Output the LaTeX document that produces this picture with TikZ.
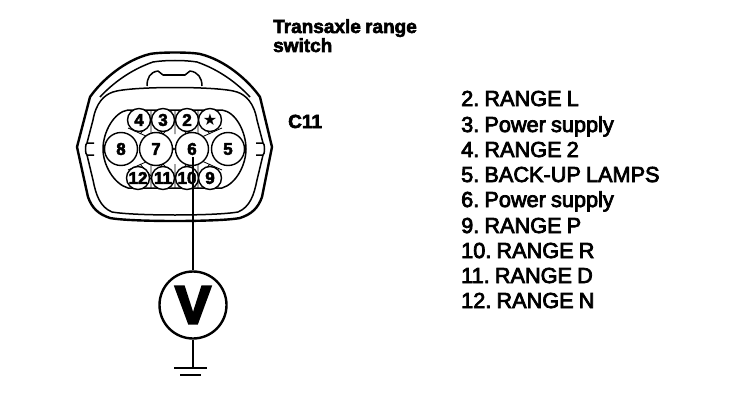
\documentclass[tikz,border=0pt]{standalone}
\usepackage{fontspec}
\setmainfont{Liberation Sans}
\frenchspacing
\newfontfamily\listfont[FakeBold=3.5,WordSpace=0.85]{Liberation Sans}
\newfontfamily\headfont[FakeBold=3,WordSpace=0.8]{Liberation Sans Bold}
\newfontfamily\meterfont[FakeBold=5]{Liberation Sans Bold}
\newfontfamily\symfont{DejaVu Sans}
\tikzset{
  pinbig/.style={circle,draw=black,line width=1.4pt,fill=white,minimum size=33pt,inner sep=0pt,font=\fontsize{17}{17}\selectfont\headfont},
  pinsmall/.style={circle,draw=black,line width=1.4pt,fill=white,minimum size=23pt,inner sep=0pt,font=\fontsize{17}{17}\selectfont\headfont},
  listitem/.style={anchor=base west,inner sep=0pt,font=\fontsize{21.7}{21}\selectfont\listfont,text=black},
  title/.style={anchor=base west,inner sep=0pt,font=\fontsize{19}{19}\selectfont\headfont},
  wire/.style={line width=2.2pt,black},
  shell/.style={line width=1.5pt,black,line join=round},
  thin lattice/.style={line width=.8pt,black}
}
\begin{document}
\begin{tikzpicture}[x=1pt,y=-1pt]
\useasboundingbox (0,0) rectangle (736,404);
\fill[white] (0,0) rectangle (736,404);
% housing outer
\draw[shell,line width=2.4pt] (150,54) .. controls (160,52) and (190,52) .. (200,54)
  .. controls (225,60) and (248,80) .. (260,97) -- (272,147) -- (262,197)
  .. controls (258,208) and (252,214) .. (240,218) .. controls (220,222) and (130,222) .. (110,218)
  .. controls (98,214) and (92,208) .. (88,197) -- (77,147) -- (90,97)
  .. controls (102,80) and (125,60) .. (150,54) -- cycle;
% inner rim, upper
\draw[shell] (100,97) .. controls (112,84) and (130,70) .. (153,62) .. controls (165,60) and (185,60) .. (197,62)
  .. controls (220,70) and (238,84) .. (250,97);
% housing inner
\draw[shell] (87,143) -- (93,120) .. controls (96,103) and (104,95) .. (113,92)
  .. controls (130,86) and (220,86) .. (237,92)
  .. controls (246,95) and (254,103) .. (257,120) -- (263,143);
\draw[shell] (87,155) -- (93,180) .. controls (96,195) and (100,207) .. (112,212)
  .. controls (135,216) and (215,216) .. (238,212)
  .. controls (250,207) and (254,195) .. (257,180) -- (263,155);
% tab
\draw[shell] (147,86) .. controls (147,78) and (150,72) .. (158,71) -- (163,75) -- (185,75) -- (190,71)
  .. controls (198,72) and (202,78) .. (202,86);
% side notches
\draw[shell] (87,143) .. controls (85,143) and (85,155) .. (87,155) -- (94,155) (87,143) -- (94,143);
\draw[shell] (263,143) .. controls (265,143) and (265,155) .. (263,155) -- (256,155) (263,143) -- (256,143);
% inner oval
\draw[shell] (128,110) -- (222,110) .. controls (236,112) and (246,132) .. (246,149)
  .. controls (246,165) and (236,184) .. (222,188) -- (128,188)
  .. controls (114,184) and (103,165) .. (103,149) .. controls (103,132) and (114,112) .. (128,110) -- cycle;
% lattice
\begin{scope}
\clip (128,110) -- (222,110) .. controls (236,112) and (246,132) .. (246,149)
  .. controls (246,165) and (236,184) .. (222,188) -- (128,188)
  .. controls (114,184) and (103,165) .. (103,149) .. controls (103,132) and (114,112) .. (128,110) -- cycle;
\draw[thin lattice]
 (151,108)--(151,134) (175,108)--(175,134) (198,108)--(198,134)
 (151,164)--(151,190) (175,164)--(175,190) (198,164)--(198,190)
 (128,128)--(222,170) (222,128)--(128,170)
 (140,108)--(163,134) (163,108)--(140,134) (163,108)--(187,134) (187,108)--(163,134) (187,108)--(210,134) (210,108)--(187,134)
 (140,190)--(163,164) (163,190)--(140,164) (163,190)--(187,164) (187,190)--(163,164) (187,190)--(210,164) (210,190)--(187,164);
\end{scope}
% pins
\node[pinsmall] (p4) at (139,120) {4};
\node[pinsmall] (p3) at (163,120) {3};
\node[pinsmall] (p2) at (187,120) {2};
\node[pinsmall] (pstar) at (210,120) {\symfont\fontsize{16}{16}\selectfont ★};
\node[pinbig] (p8) at (121,149) {8};
\node[pinbig] (p7) at (156,149) {7};
\node[pinbig] (p6) at (192,149) {6};
\node[pinbig] (p5) at (228,149) {5};
\node[pinsmall] (p12) at (138,178) {12};
\node[pinsmall] (p11) at (163,178) {11};
\node[pinsmall] (p10) at (187,178) {10};
\node[pinsmall] (p9) at (210,178) {9};
% meter
\node[circle,draw=black,line width=2.4pt,fill=white,minimum size=67pt,inner sep=0pt,font=\fontsize{53}{53}\selectfont\meterfont] (meter) at (193,305) {V};
\coordinate (pinend) at (193,157);
\coordinate (gnd) at (193,368);
\coordinate (gndl) at (174,368);
\coordinate (gndr) at (207,368);
\coordinate (gndl2) at (180,375);
\coordinate (gndr2) at (201,375);
\draw[wire] (pinend) -- (meter.north);
\draw[wire] (meter.south) -- (gnd);
\draw[wire] (gndl) -- (gndr);
\draw[line width=1.6pt] (gndl2) -- (gndr2);
% titles
\node[title] (t1) at (273,33) {Transaxle range};
\node[title] (t2) at (273,52) {switch};
\node[title] (c11) at (288,128) {C11};
% list
\node[listitem] (l2) at (461,106) {2. RANGE L};
\node[listitem] (l3) at (461,132) {3. Power supply};
\node[listitem] (l4) at (461,157) {4. RANGE 2};
\node[listitem] (l5) at (461,182) {5. BACK-UP LAMPS};
\node[listitem] (l6) at (461,207) {6. Power supply};
\node[listitem] (l9) at (461,233) {9. RANGE P};
\node[listitem] (l10) at (461,258) {10. RANGE R};
\node[listitem] (l11) at (461,283) {11. RANGE D};
\node[listitem] (l12) at (461,308) {12. RANGE N};
\end{tikzpicture}
\end{document}
